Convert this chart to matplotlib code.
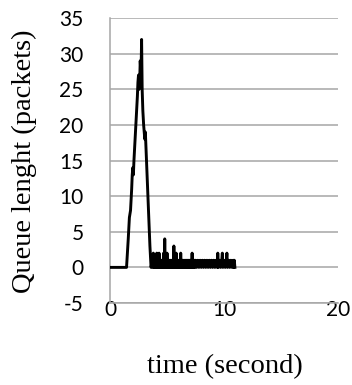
import matplotlib
matplotlib.use("Agg")
import matplotlib.pyplot as plt

plt.rcParams["axes.unicode_minus"] = False

# queue length over time
TIME = [0.0, 1.45, 1.6, 1.7, 1.8, 1.9, 1.95, 2.0, 2.05, 2.1, 2.2, 2.3, 2.4, 2.45,
        2.5, 2.55, 2.6, 2.65, 2.72, 2.77, 2.82, 2.88, 2.95, 3.0, 3.05, 3.1, 3.2,
        3.3, 3.4, 3.5, 3.6,
        3.7, 3.75, 3.8, 3.85, 3.9, 3.95, 4.0, 4.05, 4.1, 4.15, 4.2, 4.25, 4.3,
        4.35, 4.4, 4.45, 4.5, 4.55, 4.6, 4.65, 4.7, 4.75, 4.8, 4.85, 4.9, 4.95,
        5.0, 5.05, 5.1, 5.15, 5.2, 5.25, 5.3, 5.35, 5.4, 5.45, 5.5, 5.55, 5.6,
        5.65, 5.7, 5.75, 5.8, 5.85, 5.9, 5.95, 6.0, 6.05, 6.1, 6.15, 6.2, 6.25,
        6.3, 6.35, 6.4, 6.45, 6.5, 6.55, 6.6, 6.65, 6.7, 6.75, 6.8, 6.85, 6.9,
        6.95, 7.0, 7.05, 7.1, 7.15, 7.2, 7.25, 7.3, 7.35, 7.4, 7.45, 7.5, 7.6,
        7.7, 7.8, 7.9, 8.0, 8.1, 8.2, 8.3, 8.4, 8.5, 8.6, 8.7, 8.8, 8.9, 9.0,
        9.1, 9.2, 9.3, 9.4, 9.45, 9.5, 9.6, 9.7, 9.8, 9.85, 9.9, 10.0, 10.1,
        10.2, 10.25, 10.3, 10.4, 10.5, 10.6, 10.7, 10.8, 10.85, 10.9, 10.95]
QUEUE = [0, 0, 4, 7, 8, 11, 13, 14, 13, 15, 18, 21, 24, 26,
         27, 25, 26, 29, 27, 32, 25, 22, 20, 19, 18, 19, 15,
         11, 7, 3, 0,
         1, 0, 2, 0, 1, 0, 1, 0, 2, 0, 1, 0, 2,
         0, 1, 0, 1, 0, 1, 0, 2, 0, 4, 0, 1, 0,
         2, 0, 1, 0, 1, 0, 1, 0, 1, 0, 1, 0, 3,
         0, 1, 0, 2, 0, 1, 0, 1, 0, 1, 0, 2, 0,
         1, 0, 1, 0, 1, 0, 1, 0, 1, 0, 1, 0, 1,
         0, 1, 0, 1, 0, 2, 0, 1, 0, 1, 0, 1, 0,
         1, 0, 1, 0, 1, 0, 1, 0, 1, 0, 1, 0, 1, 0,
         1, 0, 1, 0, 2, 0, 1, 0, 1, 2, 0, 1, 0,
         1, 2, 0, 1, 0, 1, 0, 1, 0, 1, 0]

X_TICKS = [0, 10, 20]
Y_TICKS = [-5, 0, 5, 10, 15, 20, 25, 30, 35]

GRID_COLOR = "#A6A6A6"

fig = plt.figure(figsize=(3.52, 3.85), dpi=100)
ax = fig.add_axes([0.3125, 0.213, 0.648, 0.740])

ax.plot(TIME, QUEUE, color="black", linewidth=2.1, zorder=3)

ax.set_xlim(0, 20)
ax.set_ylim(-5, 35)
ax.set_xticks(X_TICKS)
ax.set_yticks(Y_TICKS)

ax.grid(axis="y", color=GRID_COLOR, linewidth=1.1)
ax.set_axisbelow(True)
for side in ["top", "right"]:
    ax.spines[side].set_visible(False)
for side in ["left", "bottom"]:
    ax.spines[side].set_color(GRID_COLOR)
    ax.spines[side].set_linewidth(1.1)

ax.tick_params(axis="both", length=0, labelsize=15)
ax.tick_params(axis="y", pad=19)
ax.tick_params(axis="x", pad=-2)
for lab in ax.get_xticklabels() + ax.get_yticklabels():
    lab.set_fontfamily("Lato")

fig.text(0.068, 0.58, "Queue lenght (packets)", rotation=90, ha="center",
         va="center", fontsize=20.5, family="Liberation Serif")
fig.text(0.64, 0.048, "time (second)", ha="center", va="center",
         fontsize=20.5, family="Liberation Serif")

fig.savefig("out.png", dpi=100)
